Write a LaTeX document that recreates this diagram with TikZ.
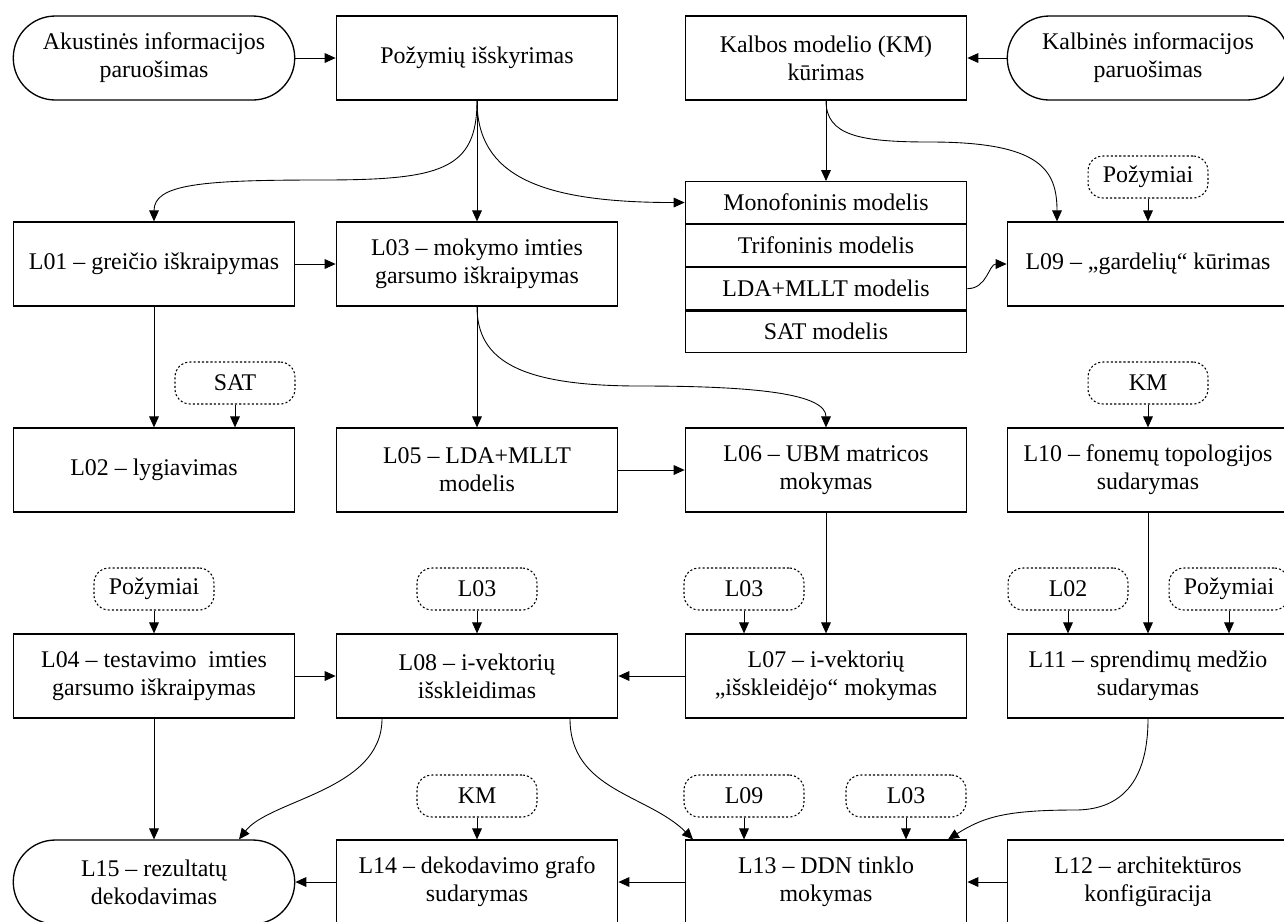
\documentclass[tikz,border=0pt]{standalone}
\usepackage{fontspec}
\setmainfont{Liberation Serif}
\usetikzlibrary{arrows.meta,calc}
\begin{document}
\begin{tikzpicture}[x=0.02cm,y=-0.02cm,
  font=\fontsize{13.6}{16}\selectfont,
  box/.style={draw,line width=0.75pt,minimum width=5.63cm,minimum height=1.68cm,align=center,inner sep=2pt},
  pill/.style={box,rounded corners=0.84cm},
  cell/.style={draw,line width=0.75pt,minimum width=5.63cm,minimum height=0.835cm,inner sep=0pt,anchor=north},
  dat/.style={draw,line width=0.6pt,dash pattern=on 1.2pt off 1.2pt,rounded corners=0.3cm,minimum width=2.4cm,minimum height=0.84cm,inner sep=0pt},
  arr/.style={-{Triangle[length=6.2pt,width=5.5pt]},line width=0.5pt},
]
\useasboundingbox (0,0) rectangle (1284,921);
\clip (0,0) rectangle (1284,921);

% row 1
\node[pill] (ak) at (154,58) {Akustinės informacijos\\paruošimas};
\node[box] (pz) at (477,58) {Požymių išskyrimas};
\node[box] (km) at (826,58) {Kalbos modelio (KM)\\kūrimas};
\node[pill] (kb) at (1148,58) {Kalbinės informacijos\\paruošimas};

% table
\node[cell] (t1) at (826,181) {Monofoninis modelis};
\node[cell] (t2) at (t1.south) {Trifoninis modelis};
\node[cell] (t3) at (t2.south) {LDA+MLLT modelis};
\node[cell] (t4) at (t3.south) {SAT modelis};

% row 2
\node[box] (l01) at (154,264) {L01 – greičio iškraipymas};
\node[box] (l03) at (477,264) {L03 – mokymo imties\\garsumo iškraipymas};
\node[box] (l09) at (1148,264) {L09 – „gardelių“ kūrimas};
\node[dat] (dpz1) at (1148,177) {Požymiai};

% row 3
\node[dat] (dsat) at (235,383) {SAT};
\node[dat] (dkm1) at (1148,383) {KM};
\node[box] (l02) at (154,470) {L02 – lygiavimas};
\node[box] (l05) at (477,470) {L05 – LDA+MLLT\\modelis};
\node[box] (l06) at (826,470) {L06 – UBM matricos\\mokymas};
\node[box] (l10) at (1148,470) {L10 – fonemų topologijos\\sudarymas};

% row 4
\node[dat] (dpz2) at (154,589) {Požymiai};
\node[dat] (dl03a) at (477,589) {L03};
\node[dat] (dl03b) at (744,589) {L03};
\node[dat] (dl02) at (1068,589) {L02};
\node[dat] (dpz3) at (1229,589) {Požymiai};
\node[box] (l04) at (154,676) {L04 – testavimo\ \ imties\\garsumo iškraipymas};
\node[box] (l08) at (477,676) {L08 – i-vektorių\\išskleidimas};
\node[box] (l07) at (826,676) {L07 – i-vektorių\\„išskleidėjo“ mokymas};
\node[box] (l11) at (1148,676) {L11 – sprendimų medžio\\sudarymas};

% row 5
\node[dat] (dkm2) at (477,796) {KM};
\node[dat] (dl09) at (744,796) {L09};
\node[dat] (dl03c) at (906,796) {L03};
\node[pill] (l15) at (154,882) {L15 – rezultatų\\dekodavimas};
\node[box] (l14) at (477,882) {L14 – dekodavimo grafo\\sudarymas};
\node[box] (l13) at (826,882) {L13 – DDN tinklo\\mokymas};
\node[box] (l12) at (1148,882) {L12 – architektūros\\konfigūracija};

% waypoints
\coordinate (w1) at (320,180);
\coordinate (w2) at (930,142);
\coordinate (w3) at (640,386);
\coordinate (w4) at (1075,810);

% connectors
\draw[arr] (ak.east) -- (pz.west);
\draw[arr] (kb.west) -- (km.east);
\draw[arr] (pz.south) -- (l03.north);
\draw[arr] (pz.south) .. controls +(0,70) and +(120,0) .. (w1) .. controls +(-120,0) and +(0,-37) .. (l01.north);
\draw[arr] (pz.south) .. controls +(0,75) and +(-145,0) .. (t1.west);
\draw[arr] (km.south) -- (t1.north);
\draw[arr] (km.south) .. controls +(0,35) and +(-70,0) .. (w2) .. controls +(110,0) and +(0,-52) .. ($(l09.north)+(-91,0)$);
\draw[arr] (dpz1.south) -- (l09.north);
\draw[arr] (t3.east) .. controls +(20,0) and +(-18,0) .. (l09.west);
\draw[arr] (l01.east) -- (l03.west);
\draw[arr] (l01.south) -- (l02.north);
\draw[arr] (dsat.south) -- (dsat.south |- l02.north);
\draw[arr] (l03.south) -- (l05.north);
\draw[arr] (l03.south) .. controls +(0,54) and +(-120,0) .. (w3) .. controls +(120,0) and +(0,-33) .. (l06.north);
\draw[arr] (l05.east) -- (l06.west);
\draw[arr] (dkm1.south) -- (l10.north);
\draw[arr] (l06.south) -- (l07.north);
\draw[arr] (dl03b.south) -- (dl03b.south |- l07.north);
\draw[arr] (l10.south) -- (l11.north);
\draw[arr] (dl02.south) -- (dl02.south |- l11.north);
\draw[arr] (dpz3.south) -- (dpz3.south |- l11.north);
\draw[arr] (dpz2.south) -- (l04.north);
\draw[arr] (dl03a.south) -- (l08.north);
\draw[arr] (l04.east) -- (l08.west);
\draw[arr] (l07.west) -- (l08.east);
\draw[arr] (l04.south) -- (l15.north);
\draw[arr] ($(l08.south)+(-95,0)$) .. controls +(0,72) and +(31,-40) .. ($(l15.north)+(85,0)$);
\draw[arr] ($(l08.south)+(93,0)$) .. controls +(0,72) and +(-45,-45) .. ($(l13.north)+(-133,0)$);
\draw[arr] (l11.south) .. controls +(0,70) and +(40,0) .. (w4) .. controls +(-70,0) and +(35,-22) .. ($(l13.north)+(122,0)$);
\draw[arr] (dkm2.south) -- (l14.north);
\draw[arr] (dl09.south) -- (dl09.south |- l13.north);
\draw[arr] (dl03c.south) -- (dl03c.south |- l13.north);
\draw[arr] (l13.west) -- (l14.east);
\draw[arr] (l14.west) -- (l15.east);
\draw[arr] (l12.west) -- (l13.east);
\end{tikzpicture}
\end{document}
